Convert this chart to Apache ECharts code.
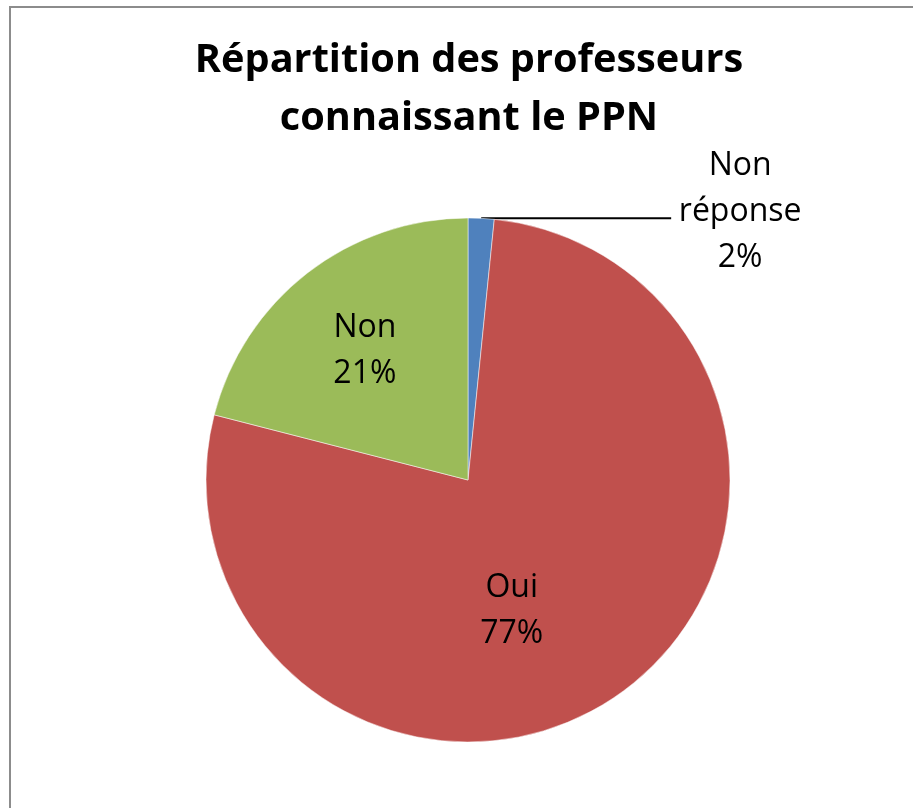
<!DOCTYPE html>
<html>
<head>
<meta charset="utf-8">
<script src="https://cdn.jsdelivr.net/npm/echarts@6/dist/echarts.min.js"></script>
<style>
  html, body { margin: 0; padding: 0; background: #fff; overflow: hidden; }
  #main { width: 913px; height: 808px; }
</style>
</head>
<body>
<div id="main"></div>
<script>
// données
var categories = ['Non réponse', 'Oui', 'Non'];
var values = [1.6, 77.4, 21.0];
var colors = ['#4F81BD', '#C0504D', '#9BBB59'];

// décalage des étiquettes internes (façon Excel)
var labelShift = [null, [-33, 21], [-21, -23]];

var chart = echarts.init(document.getElementById('main'));

var pieData = categories.map(function (name, i) {
  var item = { name: name, value: values[i], itemStyle: { color: colors[i] } };
  if (i === 0) {
    item.label = {
      position: 'outside',
      formatter: '{a|Non\nréponse\n{d}%}',
      padding: [0, 0, 12, 0]
    };
    item.labelLine = { show: true, length: 0, length2: 190, lineStyle: { color: '#000', width: 2 } };
  }
  return item;
});

var option = {
  backgroundColor: '#fff',
  animation: false,
  title: {
    text: 'Répartition des professeurs\nconnaissant le PPN',
    left: 464,
    textAlign: 'center',
    top: 27,
    textStyle: {
      fontFamily: 'Open Sans',
      fontSize: 39.7,
      fontWeight: 'bold',
      color: '#000',
      lineHeight: 58
    }
  },
  graphic: [{
    type: 'rect',
    shape: { x: 10, y: 7, width: 1200, height: 1200 },
    style: { fill: null, stroke: '#8c8c8c', lineWidth: 2 },
    silent: true
  }],
  series: [{
    type: 'pie',
    center: [468, 480],
    radius: 262,
    startAngle: 90,
    clockwise: true,
    percentPrecision: 0,
    data: pieData,
    itemStyle: { borderColor: '#fff', borderWidth: 0.5 },
    label: {
      position: 'inside',
      formatter: '{b}\n{d}%',
      fontFamily: 'Open Sans',
      fontSize: 32,
      lineHeight: 46,
      color: '#000',
      rich: {
        a: {
          fontFamily: 'Open Sans',
          fontSize: 32,
          lineHeight: 46,
          color: '#000',
          width: 128,
          align: 'center'
        }
      }
    },
    labelLine: { show: false },
    labelLayout: function (params) {
      var s = labelShift[params.dataIndex];
      if (!s) return {};
      return { dx: s[0], dy: s[1] };
    }
  }]
};

chart.setOption(option);
</script>
</body>
</html>
